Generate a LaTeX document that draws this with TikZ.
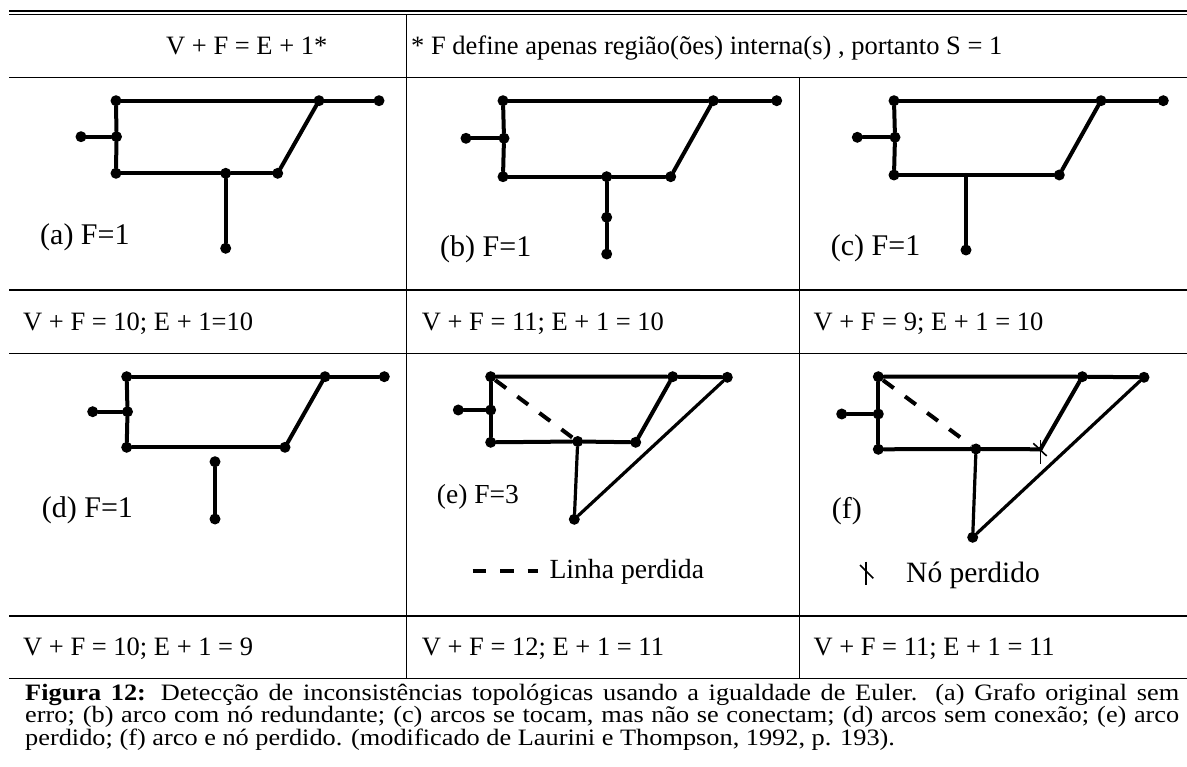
\documentclass[tikz,border=0pt]{standalone}
\usepackage{fontspec}
\setmainfont{Liberation Serif}
\newfontfamily\capfont[FakeStretch=1.12]{Liberation Serif}
\tikzset{
  dot/.style={circle,fill=black,inner sep=0pt,minimum size=11pt},
  edge/.style={line width=4pt,line cap=round},
  thinedge/.style={line width=3.2pt,line cap=round},
  lostline/.style={line width=4pt,dash pattern=on 13.5pt off 14pt},
  rule/.style={line width=1.3pt},
  tickmark/.style={line width=1.6pt},
  celltext/.style={anchor=base west,inner sep=0pt,font=\fontsize{26.5}{30}\selectfont},
  panellabel/.style={anchor=base west,inner sep=0pt,font=\fontsize{30}{36}\selectfont},
}
\begin{document}
\begin{tikzpicture}[x=1pt,y=-1pt]
\useasboundingbox (0,0) rectangle (1187,767);
\fill[white] (0,0) rectangle (1187,767);

% ---- table rules ----
\coordinate (tl1) at (9,11.2);  \coordinate (tr1) at (1187,11.2);
\coordinate (tl2) at (9,14.2);  \coordinate (tr2) at (1187,14.2);
\coordinate (hl1) at (9,77.3);  \coordinate (hr1) at (1187,77.3);
\coordinate (hl2) at (9,290);   \coordinate (hr2) at (1187,290);
\coordinate (hl3) at (9,353.3); \coordinate (hr3) at (1187,353.3);
\coordinate (hl4) at (9,616);   \coordinate (hr4) at (1187,616);
\coordinate (hl5) at (9,678.3); \coordinate (hr5) at (1187,678.3);
\coordinate (v1t) at (406.5,14.2); \coordinate (v1b) at (406.5,678.3);
\coordinate (v2t) at (799.5,77.3); \coordinate (v2b) at (799.5,678.3);
\draw[line width=2.3pt] (tl1) -- (tr1);
\draw[line width=1pt] (tl2) -- (tr2);
\draw[rule] (hl1) -- (hr1);
\draw[rule] (hl2) -- (hr2);
\draw[rule] (hl3) -- (hr3);
\draw[rule] (hl4) -- (hr4);
\draw[rule] (hl5) -- (hr5);
\draw[rule] (v1t) -- (v1b);
\draw[rule] (v2t) -- (v2b);

% ---- header ----
\node[celltext] (h1) at (166,54.3) {V + F = E + 1*};
\node[celltext] (h2) at (411,54.3) {* F define apenas região(ões) interna(s) , portanto S = 1};

% ---- panel (a) ----
\node[dot] (a1) at (116,100.7) {};
\node[dot] (a2) at (319,100.7) {};
\node[dot] (a3) at (379,100.7) {};
\node[dot] (a4) at (116.5,136.7) {};
\node[dot] (a5) at (81,136.7) {};
\node[dot] (a6) at (116,173.3) {};
\node[dot] (a7) at (225.7,173.3) {};
\node[dot] (a8) at (277.7,173.3) {};
\node[dot] (a9) at (225.7,248.3) {};
\draw[edge] (a1) -- (a2) -- (a3);
\draw[edge] (a1) -- (a4) -- (a6);
\draw[edge] (a5) -- (a4);
\draw[edge] (a6) -- (a7) -- (a8);
\draw[edge] (a8) -- (a2);
\draw[edge] (a7) -- (a9);
\node[panellabel] (la) at (40,245) {(a) F=1};

% ---- panel (b) ----
\node[dot] (b1) at (503,100.7) {};
\node[dot] (b2) at (713.3,100.7) {};
\node[dot] (b3) at (776.7,100.7) {};
\node[dot] (b4) at (504,138.3) {};
\node[dot] (b5) at (466,138.3) {};
\node[dot] (b6) at (503,176.7) {};
\node[dot] (b7) at (606.7,176.7) {};
\node[dot] (b8) at (670.7,176.7) {};
\node[dot] (b9) at (606.7,217.3) {};
\node[dot] (b10) at (606.7,254) {};
\draw[edge] (b1) -- (b2) -- (b3);
\draw[edge] (b1) -- (b4) -- (b6);
\draw[edge] (b5) -- (b4);
\draw[edge] (b6) -- (b7) -- (b8);
\draw[edge] (b8) -- (b2);
\draw[edge] (b7) -- (b9) -- (b10);
\node[panellabel] (lb) at (440,256.7) {(b) F=1};

% ---- panel (c) ----
\node[dot] (c1) at (894,100.7) {};
\node[dot] (c2) at (1101,100.7) {};
\node[dot] (c3) at (1163.3,100.7) {};
\node[dot] (c4) at (895,137.3) {};
\node[dot] (c5) at (857.3,137.3) {};
\node[dot] (c6) at (894,175) {};
\node[dot] (c7) at (1059.3,175) {};
\coordinate (c8) at (966,175);
\node[dot] (c9) at (966,250) {};
\draw[edge] (c1) -- (c2) -- (c3);
\draw[edge] (c1) -- (c4) -- (c6);
\draw[edge] (c5) -- (c4);
\draw[edge] (c6) -- (c7);
\draw[edge] (c7) -- (c2);
\draw[edge] (c8) -- (c9);
\node[panellabel] (lc) at (830.7,256) {(c) F=1};

% ---- row 3 texts ----
\node[celltext] (r3a) at (23,330.7) {V + F = 10; E + 1=10};
\node[celltext] (r3b) at (421.7,330.7) {V + F = 11; E + 1 = 10};
\node[celltext] (r3c) at (813.3,330.7) {V + F = 9; E + 1 = 10};

% ---- panel (d) ----
\node[dot] (d1) at (126.7,376.7) {};
\node[dot] (d2) at (325,376.7) {};
\node[dot] (d3) at (384.3,376.7) {};
\node[dot] (d4) at (127.5,411.7) {};
\node[dot] (d5) at (92.7,411.7) {};
\node[dot] (d6) at (126.7,447.3) {};
\node[dot] (d7) at (285,447.3) {};
\node[dot] (d8) at (215,461.7) {};
\node[dot] (d9) at (215,519) {};
\draw[edge] (d1) -- (d2) -- (d3);
\draw[edge] (d1) -- (d4) -- (d6);
\draw[edge] (d5) -- (d4);
\draw[edge] (d6) -- (d7);
\draw[edge] (d7) -- (d2);
\draw[edge] (d8) -- (d9);
\node[panellabel] (ld) at (41.7,517.3) {(d) F=1};

% ---- panel (e) ----
\node[dot] (e1) at (490.7,376.7) {};
\node[dot] (e2) at (672.7,376.7) {};
\node[dot] (e3) at (727.3,377.3) {};
\node[dot] (e4) at (490.7,410) {};
\node[dot] (e5) at (458.3,410) {};
\node[dot] (e6) at (490.7,442.3) {};
\node[dot] (e7) at (577.7,441.5) {};
\node[dot] (e8) at (635.7,442.3) {};
\node[dot] (e9) at (574.3,519.3) {};
\draw[edge] (e1) -- (e2) -- (e3);
\draw[edge] (e1) -- (e4) -- (e6);
\draw[edge] (e5) -- (e4);
\draw[edge] (e6) -- (e7) -- (e8);
\draw[edge] (e8) -- (e2);
\draw[thinedge] (e7) -- (e9);
\draw[thinedge] (e9) -- (e3);
\draw[lostline] (e1) -- (e7);
\node[panellabel,font=\fontsize{27.5}{33}\selectfont] (le) at (436.7,503.3) {(e) F=3};
\coordinate (lgA) at (472.7,570.7);
\coordinate (lgB) at (538.3,570.7);
\draw[lostline] (lgA) -- (lgB);
\node[anchor=base west,inner sep=0pt,font=\fontsize{27.7}{33}\selectfont] (lgtext) at (549.3,578.3) {Linha perdida};

% ---- panel (f) ----
\node[dot] (f1) at (878.3,376.7) {};
\node[dot] (f2) at (1082.3,376.7) {};
\node[dot] (f3) at (1144,377.3) {};
\node[dot] (f4) at (878.3,414) {};
\node[dot] (f5) at (841.7,414) {};
\node[dot] (f6) at (878.3,449.3) {};
\node[dot] (f7) at (976,449) {};
\coordinate (fX) at (1040.5,449.3);
\node[dot] (f9) at (972.7,537.3) {};
\draw[edge] (f1) -- (f2) -- (f3);
\draw[edge] (f1) -- (f4) -- (f6);
\draw[edge] (f5) -- (f4);
\draw[edge] (f6) -- (f7) -- (fX);
\draw[edge] (fX) -- (f2);
\draw[thinedge] (f7) -- (f9);
\draw[thinedge] (f9) -- (f3);
\draw[lostline] (f1) -- (f7);
\coordinate (fXt) at (1040.5,440);
\coordinate (fXb) at (1040.5,464);
\coordinate (fXd1) at (1033.3,443.3);
\coordinate (fXd2) at (1046.7,456);
\draw[tickmark] (fXt) -- (fXb);
\draw[tickmark] (fXd1) -- (fXd2);
\node[panellabel] (lf) at (831.7,518.3) {(f)};
\coordinate (nsT) at (866,561.7);
\coordinate (nsB) at (866,585);
\coordinate (nsD1) at (860,565);
\coordinate (nsD2) at (873.3,578.3);
\draw[tickmark] (nsT) -- (nsB);
\draw[tickmark] (nsD1) -- (nsD2);
\node[anchor=base west,inner sep=0pt,font=\fontsize{29.5}{35}\selectfont] (nstext) at (906,582.3) {Nó perdido};

% ---- row 5 texts ----
\node[celltext] (r5a) at (23,655) {V + F = 10; E + 1 = 9};
\node[celltext] (r5b) at (421.7,655) {V + F = 12; E + 1 = 11};
\node[celltext] (r5c) at (813.3,655) {V + F = 11; E + 1 = 11};

% ---- caption ----
\node[anchor=base west,inner sep=0pt,text width=1154pt,align=justify,
      font=\capfont\fontsize{23.5}{20.8}\selectfont] (caption) at (25,700)
 {\lineskiplimit=-20pt\relax\textbf{Figura 12:} Detecção de inconsistências topológicas usando a igualdade de Euler. (a) Grafo original sem\linebreak
  erro; (b) arco com nó redundante; (c) arcos se tocam, mas não se conectam; (d) arcos sem conexão; (e) arco\linebreak
  perdido; (f) arco e nó perdido. (modificado de Laurini e Thompson, 1992, p. 193).};
\end{tikzpicture}
\end{document}
